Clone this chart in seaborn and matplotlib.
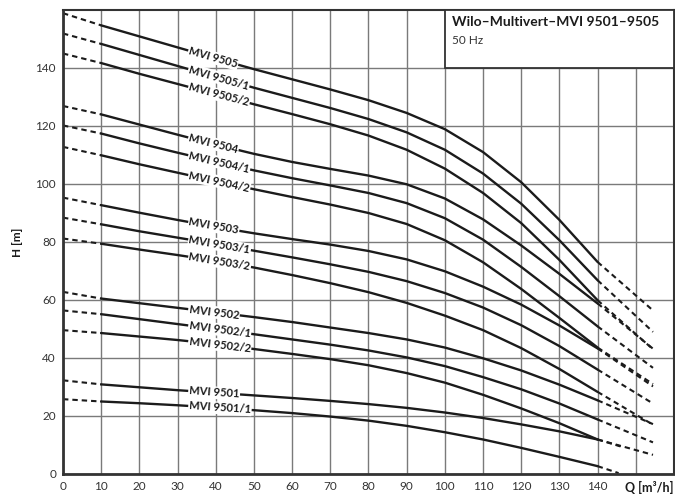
import numpy as np
import pandas as pd
import seaborn as sns
import matplotlib.pyplot as plt
from matplotlib.patches import Rectangle

# Q values of the read points (solid part runs 10..140)
q = [0, 10, 20, 30, 40, 50, 60, 70, 80, 90, 100, 110, 120, 130, 140]

h_9505 = [158.9, 154.7, 150.9, 147.1, 143.3, 139.6, 136.1, 132.6, 128.9, 124.5, 118.9, 111.0, 100.6, 87.6, 73.1]
h_9505_1 = [151.9, 148.3, 144.5, 140.7, 136.9, 133.2, 129.7, 126.2, 122.4, 117.8, 111.8, 103.6, 93.2, 80.6, 66.8]
h_9505_2 = [145.0, 141.7, 138.0, 134.5, 131.0, 127.5, 124.1, 120.6, 116.7, 111.8, 105.3, 96.9, 86.5, 73.8, 59.9]
h_9504 = [126.9, 124.0, 120.5, 117.0, 113.6, 110.4, 107.6, 105.2, 102.9, 99.9, 95.0, 87.8, 78.8, 69.0, 58.8]
h_9504_1 = [120.2, 117.4, 114.0, 110.8, 107.7, 104.7, 102.0, 99.5, 96.9, 93.4, 88.2, 80.8, 71.4, 61.3, 50.9]
h_9504_2 = [112.8, 109.9, 106.8, 103.9, 101.0, 98.2, 95.5, 92.9, 90.0, 86.2, 80.6, 73.0, 63.8, 53.8, 43.6]
h_9503 = [95.3, 92.7, 90.1, 87.6, 85.2, 83.0, 81.0, 79.1, 76.9, 74.0, 69.9, 64.6, 58.4, 51.2, 43.3]
h_9503_1 = [88.4, 86.1, 83.7, 81.5, 79.3, 77.0, 74.7, 72.3, 69.7, 66.5, 62.4, 57.4, 51.3, 44.1, 36.0]
h_9503_2 = [81.2, 79.4, 77.4, 75.5, 73.5, 71.2, 68.6, 65.8, 62.7, 59.0, 54.6, 49.6, 43.4, 36.2, 28.3]
h_9502 = [62.8, 60.5, 58.9, 57.3, 55.7, 54.1, 52.4, 50.5, 48.6, 46.4, 43.6, 39.9, 35.7, 30.8, 25.4]
h_9502_1 = [56.4, 55.1, 53.4, 51.7, 50.0, 48.2, 46.4, 44.6, 42.6, 40.2, 37.2, 33.4, 29.2, 24.3, 18.8]
h_9502_2 = [49.6, 48.6, 47.4, 46.2, 44.8, 43.1, 41.4, 39.6, 37.5, 34.8, 31.5, 27.3, 22.6, 17.5, 11.9]
h_9501 = [32.3, 30.9, 29.9, 28.9, 28.0, 27.1, 26.2, 25.2, 24.1, 22.8, 21.2, 19.3, 17.1, 14.7, 11.9]
h_9501_1 = [25.8, 25.0, 24.4, 23.7, 22.9, 22.0, 21.0, 19.8, 18.4, 16.6, 14.4, 11.9, 9.0, 5.9, 2.7]

models = ["MVI 9505", "MVI 9505/1", "MVI 9505/2", "MVI 9504", "MVI 9504/1", "MVI 9504/2",
          "MVI 9503", "MVI 9503/1", "MVI 9503/2", "MVI 9502", "MVI 9502/1", "MVI 9502/2",
          "MVI 9501", "MVI 9501/1"]
heads = [h_9505, h_9505_1, h_9505_2, h_9504, h_9504_1, h_9504_2, h_9503, h_9503_1,
         h_9503_2, h_9502, h_9502_1, h_9502_2, h_9501, h_9501_1]

# end of the dashed tail right of 140
q_end = [154.5, 154.5, 154.5, 154.5, 154.5, 154.5, 154.5, 154.5, 154.5, 154.5, 154.5, 154.5, 146, 145.5]
h_end = [56.4, 49.0, 43.0, 43.2, 36.6, 31.0, 30.2, 24.3, 17.0, 17.2, 10.9, 6.6, 9.5, 0.3]

x_ticks = list(range(0, 160, 10))
x_labels = [str(t) for t in range(0, 150, 10)] + [""]
y_ticks = list(range(0, 160, 20))

# long tables for seaborn
solid_rows, dash_rows = [], []
for m, h, qe, he in zip(models, heads, q_end, h_end):
    for qq, hh in zip(q[1:], h[1:]):
        solid_rows.append((m, qq, hh))
    dash_rows += [(m + "_l", q[0], h[0]), (m + "_l", q[1], h[1])]
    dash_rows += [(m + "_r", q[-1], h[-1]), (m + "_r", qe, he)]
solid = pd.DataFrame(solid_rows, columns=["model", "Q", "H"])
dashed = pd.DataFrame(dash_rows, columns=["seg", "Q", "H"])

sns.set_style("white")
plt.rcParams["font.family"] = ["Lato", "DejaVu Sans"]
ink = "#1b1b1b"

fig = plt.figure(figsize=(6.75, 4.97), dpi=100)
ax = fig.add_axes([0.0933, 0.0463, 0.9052, 0.9336])
ax.set_xlim(0, 160)
ax.set_ylim(0, 160)

sns.lineplot(data=solid, x="Q", y="H", units="model", estimator=None, sort=False,
             color=ink, lw=1.7, ax=ax)
sns.lineplot(data=dashed, x="Q", y="H", units="seg", estimator=None, sort=False,
             color=ink, lw=1.5, linestyle=(0, (2.6, 1.9)), ax=ax)

ax.set_xticks(x_ticks)
ax.set_xticklabels(x_labels)
ax.set_yticks(y_ticks)
ax.grid(True, color="#7a7a7a", lw=1.0)
ax.set_axisbelow(True)
ax.tick_params(length=0, labelsize=8.5, labelcolor="#333333")
ax.tick_params(axis="x", pad=5)
ax.tick_params(axis="y", pad=5)
ax.set_xlabel("")
ax.set_ylabel("")
for side in ["left", "bottom"]:
    ax.spines[side].set_linewidth(2.0)
    ax.spines[side].set_color("#333333")
for side in ["top", "right"]:
    ax.spines[side].set_linewidth(1.5)
    ax.spines[side].set_color("#333333")

# curve labels along the curves
for m, h in zip(models, heads):
    q0, q1 = 33, 48
    p0 = ax.transData.transform((q0, np.interp(q0, q, h)))
    p1 = ax.transData.transform((q1, np.interp(q1, q, h)))
    ang = np.degrees(np.arctan2(p1[1] - p0[1], p1[0] - p0[0]))
    ax.text(q0, np.interp(q0, q, h), m, rotation=ang, rotation_mode="anchor",
            ha="left", va="center", fontsize=8, fontweight="bold", color=ink,
            bbox=dict(facecolor="white", edgecolor="none", pad=0.6), zorder=5)

# title box
ax.add_patch(Rectangle((100, 140), 60, 20, facecolor="white", edgecolor="#333333",
                       lw=1.3, zorder=4))
ax.text(101.8, 155.8, "Wilo–Multivert–MVI 9501–9505", fontsize=10, fontweight="bold",
        color=ink, va="center", ha="left", zorder=6)
ax.text(101.8, 149.6, "50 Hz", fontsize=8.5, color="#333333", va="center", ha="left", zorder=6)

ax.text(159.8, -4.6, "Q [m³/h]", fontsize=9, fontweight="bold", color=ink,
        ha="right", va="center", clip_on=False)
ax.text(-11.8, 80, "H [m]", fontsize=8.5, fontweight="bold", color=ink, rotation=90,
        ha="center", va="center", clip_on=False)

fig.savefig("out.png", dpi=100)
